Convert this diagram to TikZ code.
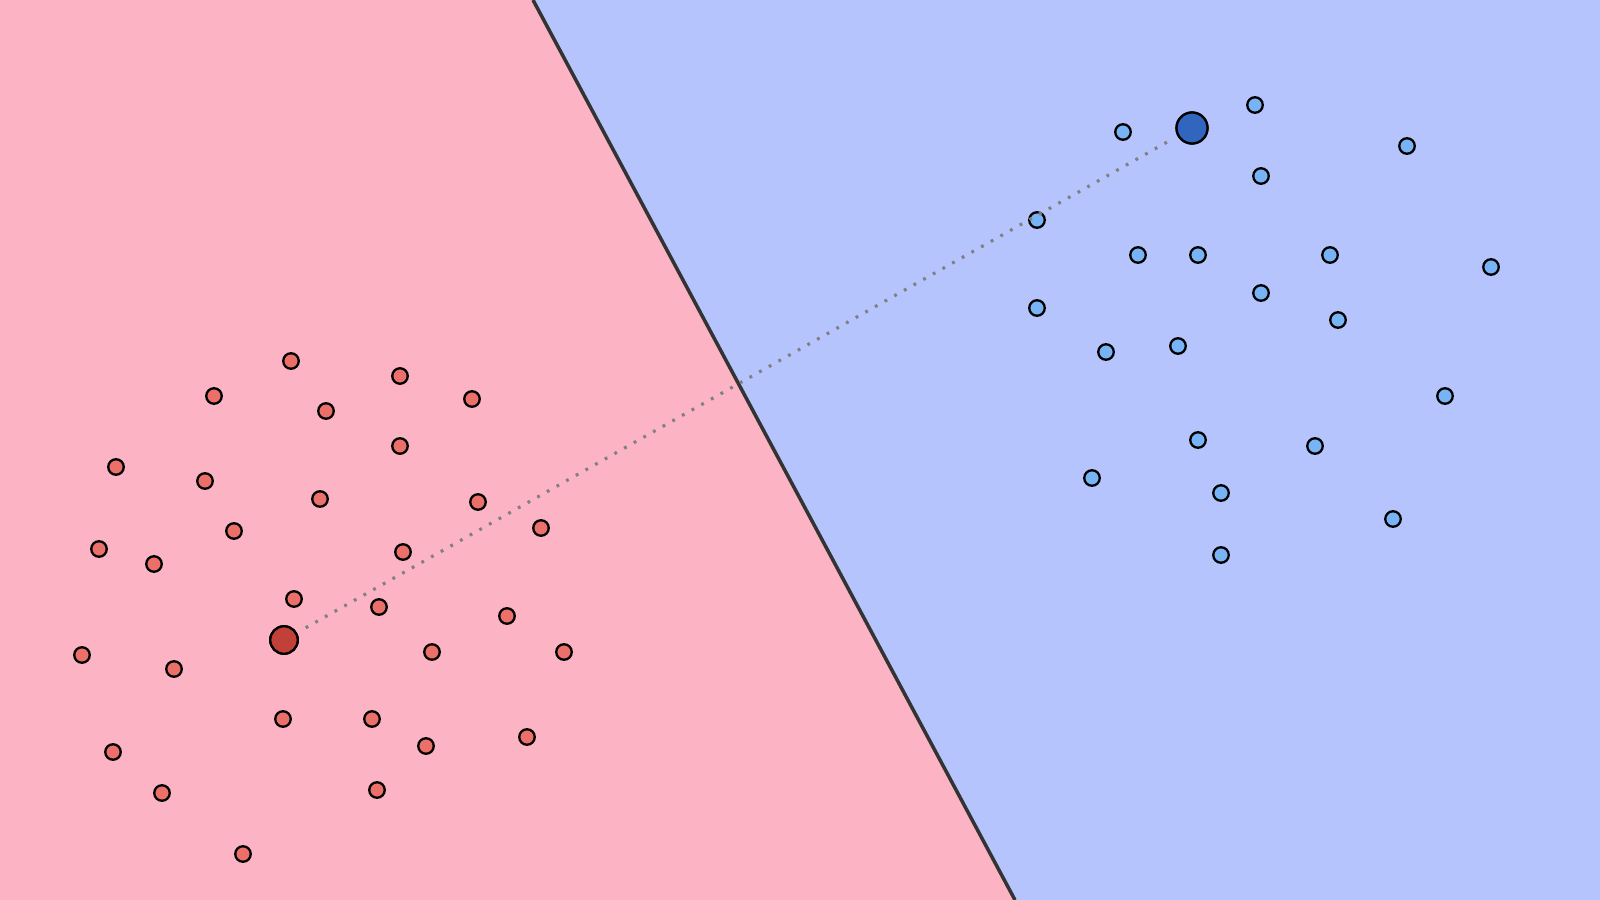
\documentclass[tikz,border=0pt]{standalone}
\usepackage{tikz}
\newcommand{\pixelsize}{0.01cm}
\definecolor{pinkside}{HTML}{FCB4C5}
\definecolor{blueside}{HTML}{B6C4FD}
\definecolor{redpoint}{HTML}{EC706A}
\definecolor{redcentre}{HTML}{C1403A}
\definecolor{bluepoint}{HTML}{78B4F5}
\definecolor{bluecentre}{HTML}{3266BE}
\tikzset{
	reddot/.style={circle, draw=black, line width=0.65pt, fill=redpoint, inner sep=0pt, minimum size=0.155cm},
	bluedot/.style={circle, draw=black, line width=0.65pt, fill=bluepoint, inner sep=0pt, minimum size=0.155cm},
	redmean/.style={reddot, fill=redcentre, minimum size=0.275cm},
	bluemean/.style={bluedot, fill=bluecentre, minimum size=0.31cm}
}

\begin{document}
\begin{tikzpicture}[x=\pixelsize,y=-\pixelsize]
	\useasboundingbox (0,0) rectangle (1600,900);
	\coordinate (TL) at (0,0);
	\coordinate (TR) at (1600,0);
	\coordinate (BL) at (0,900);
	\coordinate (BR) at (1600,900);
	\coordinate (P) at (533,0);
	\coordinate (Q) at (1015,900);

	% the two half planes
	\fill[pinkside] (TL) -- (P) -- (Q) -- (BL) -- cycle;
	\fill[blueside] (P) -- (TR) -- (BR) -- (Q) -- cycle;
	\draw[line width=1pt, black!80] (P) -- (Q);

	% red class
	\node[reddot] (r1) at (291,361) {};
	\node[reddot] (r2) at (400,376) {};
	\node[reddot] (r3) at (214,396) {};
	\node[reddot] (r4) at (326,411) {};
	\node[reddot] (r5) at (472,399) {};
	\node[reddot] (r6) at (400,446) {};
	\node[reddot] (r7) at (116,467) {};
	\node[reddot] (r8) at (205,481) {};
	\node[reddot] (r9) at (320,499) {};
	\node[reddot] (r10) at (478,502) {};
	\node[reddot] (r11) at (234,531) {};
	\node[reddot] (r12) at (541,528) {};
	\node[reddot] (r13) at (99,549) {};
	\node[reddot] (r14) at (154,564) {};
	\node[reddot] (r15) at (403,552) {};
	\node[reddot] (r16) at (294,599) {};
	\node[reddot] (r17) at (379,607) {};
	\node[reddot] (r18) at (507,616) {};
	\node[reddot] (r19) at (82,655) {};
	\node[reddot] (r20) at (174,669) {};
	\node[reddot] (r21) at (432,652) {};
	\node[reddot] (r22) at (564,652) {};
	\node[reddot] (r23) at (283,719) {};
	\node[reddot] (r24) at (372,719) {};
	\node[reddot] (r25) at (426,746) {};
	\node[reddot] (r26) at (527,737) {};
	\node[reddot] (r27) at (113,752) {};
	\node[reddot] (r28) at (162,793) {};
	\node[reddot] (r29) at (377,790) {};
	\node[reddot] (r30) at (243,854) {};

	% blue class
	\node[bluedot] (b1) at (1255,105) {};
	\node[bluedot] (b2) at (1123,132) {};
	\node[bluedot] (b3) at (1407,146) {};
	\node[bluedot] (b4) at (1261,176) {};
	\node[bluedot] (b5) at (1037,220) {};
	\node[bluedot] (b6) at (1138,255) {};
	\node[bluedot] (b7) at (1198,255) {};
	\node[bluedot] (b8) at (1330,255) {};
	\node[bluedot] (b9) at (1491,267) {};
	\node[bluedot] (b10) at (1261,293) {};
	\node[bluedot] (b11) at (1037,308) {};
	\node[bluedot] (b12) at (1338,320) {};
	\node[bluedot] (b13) at (1106,352) {};
	\node[bluedot] (b14) at (1178,346) {};
	\node[bluedot] (b15) at (1445,396) {};
	\node[bluedot] (b16) at (1198,440) {};
	\node[bluedot] (b17) at (1315,446) {};
	\node[bluedot] (b18) at (1092,478) {};
	\node[bluedot] (b19) at (1221,493) {};
	\node[bluedot] (b20) at (1393,519) {};
	\node[bluedot] (b21) at (1221,555) {};

	% class means
	\node[redmean] (mr) at (284,640) {};
	\node[bluemean] (mb) at (1192,128) {};
	\draw[black!50, line width=0.9pt, dash pattern=on 0.8pt off 2.35pt, shorten <=0.1cm, shorten >=0.1cm] (mr) -- (mb);
	\node[redmean] at (mr) {};
	\node[bluemean] at (mb) {};

\end{tikzpicture}
\end{document}
